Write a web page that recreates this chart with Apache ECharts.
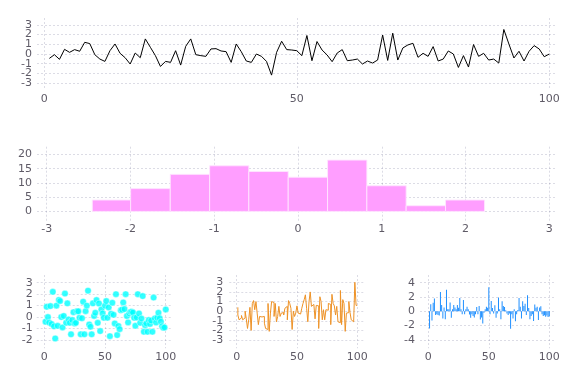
<!DOCTYPE html>
<html>
<head>
<meta charset="utf-8">
<script src="https://cdn.jsdelivr.net/npm/echarts@6/dist/echarts.min.js"></script>
<style>html,body{margin:0;padding:0;background:#fff}#c{width:576px;height:384px}</style>
</head>
<body>
<div id="c"></div>
<script>
// ---- data ----
const lineValues = [-0.45,-0.07,-0.55,0.48,0.17,0.45,0.28,1.2,1.07,-0.07,
  -0.52,-0.76,0.34,1.03,0.07,-0.38,-1.03,0.1,-0.38,1.55,
  0.69,-0.17,-1.28,-0.76,-0.86,0.34,-1.14,0.79,1.55,-0.07,
  -0.17,-0.24,0.52,0.55,0.31,0.24,-0.86,1.03,0.24,-0.72,
  -0.86,0.0,-0.24,-0.76,-2.17,0.17,1.31,0.45,0.41,0.34,
  -0.17,1.9,-0.69,1.28,0.41,-0.1,-0.79,0.1,0.45,-0.69,
  -0.62,-0.52,-1.03,-0.72,-0.93,-0.62,1.95,-0.66,2.14,-0.62,
  0.62,0.93,1.1,-0.34,0.07,-0.24,0.76,-0.72,-0.52,0.31,
  0.0,-1.38,-0.17,-1.34,0.97,-0.24,0.07,-0.62,-0.52,-0.93,
  2.52,1.03,-0.41,0.28,-0.72,0.28,0.86,0.52,-0.28,0.0];

const histEdges = [-2.456,-1.998,-1.525,-1.055,-0.587,-0.117,0.353,0.822,1.291,1.761,2.227];
const histCounts = [4,8,13,16,14,12,18,9,2,4];

const scatterValues = [-0.4,0.9,0.0,-0.47,0.96,-0.6,2.2,-0.8,-1.86,1.0,
  -0.76,1.5,1.4,0.0,-0.9,0.1,2.05,-0.5,1.2,-0.2,
  -0.5,-1.5,-0.26,0.43,-0.55,-0.5,0.5,0.5,-0.06,-1.5,
  -0.1,1.34,-1.5,0.52,1.0,2.3,-0.64,-0.84,-1.5,1.2,
  0.1,0.38,1.48,-0.5,1.19,-1.22,0.67,0.32,-0.06,1.0,
  1.4,-0.06,0.84,-1.66,0.3,1.25,0.2,-0.55,2.0,-1.57,
  -0.78,-1.05,0.6,0.65,1.28,0.7,2.0,0.09,-0.46,0.32,
  0.45,0.46,0.4,-0.06,-0.76,-0.03,2.0,0.32,-0.5,-0.12,
  1.83,-1.28,-0.7,-0.55,-1.28,-0.26,-0.6,-0.3,-1.28,1.7,
  -0.12,-0.47,-0.06,0.38,-0.1,-0.4,-0.8,-0.93,-0.9,0.67];

const stepValues = [0.4,-0.4,-0.9,-0.7,-0.45,-0.9,-0.7,0.0,-0.8,-1.8,
  -0.9,0.4,-2.0,0.8,1.1,0.15,1.0,-0.2,-1.4,-0.55,
  -0.6,-0.6,-0.55,-1.25,-1.8,-1.9,0.8,-2.1,-0.2,1.0,
  0.9,-0.55,0.8,-1.1,-0.55,0.5,-0.55,-0.2,-0.15,-0.4,
  0.3,0.5,-0.9,1.1,0.8,0.3,-1.9,0.0,-0.55,-0.2,
  0.55,-0.2,-0.3,-0.15,0.3,0.8,1.2,1.7,0.3,-1.1,
  1.0,2.0,0.5,0.7,0.65,-0.8,0.6,0.55,-1.8,1.5,
  1.0,-0.9,0.15,-0.9,0.15,0.1,0.8,0.7,-1.4,1.75,
  0.8,0.55,-0.4,0.5,-1.1,-1.2,2.15,-1.4,1.2,0.8,
  -2.1,-0.2,-0.15,1.0,-0.15,-0.9,-1.1,-1.0,3.0,0.6];

const barValues = [-2.4,1.0,-1.3,1.2,1.8,-0.5,-0.4,-0.5,-0.6,2.7,
  0.9,-1.0,0.55,-1.1,3.0,0.3,0.3,1.25,-0.9,0.28,
  0.9,0.55,0.3,0.9,0.5,1.85,0.3,-0.4,1.6,-0.4,
  0.3,0.65,0.3,-0.45,-0.9,-0.4,-0.65,-0.85,-0.4,0.6,
  -0.4,0.75,-1.15,-0.85,-1.7,-0.2,0.3,0.65,0.5,3.35,
  -0.4,1.45,0.45,-0.3,0.85,-0.9,-0.3,1.95,0.3,-1.1,
  1.4,0.75,0.6,0.15,-0.3,-0.5,-0.3,-2.45,-0.4,-1.0,
  0.3,-1.4,-0.4,0.2,1.85,0.65,-1.0,1.4,0.75,1.05,
  -0.5,2.25,0.45,-1.1,-0.65,-0.4,-1.35,0.95,0.5,0.65,
  -1.2,0.55,0.7,-0.4,-0.65,-0.55,-0.75,-0.6,-0.8,-0.7];

const xTicksIndex = [0,50,100];
const xTicksHist = [-3,-2,-1,0,1,2,3];
const yTicksLineOdd = [-3,-1,1,3];
const yTicksLineEven = [-2,0,2];
const yTicksHist = [0,5,10,15,20];
const yTicksScatter = [-2,-1,0,1,2,3];
const yTicksStepOdd = [-3,-1,1,3];
const yTicksStepEven = [-2,0,2];
const yTicksBar = [-4,-2,0,2,4];

// ---- chart ----
const labelColor = '#5e5a66';
const gridColor = 'rgba(60,60,110,0.18)';
const font = 'DejaVu Sans';

function xAx(gi, min, max, ticks, margin) {
  return {type:'value', gridIndex:gi, min:min, max:max, position:'bottom',
    axisLine:{show:false},
    axisTick:{show:false, customValues:ticks},
    axisLabel:{customValues:ticks, color:labelColor, fontFamily:font, fontSize:11, margin:margin,
      showMinLabel:true, showMaxLabel:true},
    splitLine:{show:true, lineStyle:{color:gridColor, type:[2,2], width:1}}};
}
function yAx(gi, min, max, ticks, margin) {
  return {type:'value', gridIndex:gi, min:min, max:max, position:'left', offset:0,
    axisLine:{show:false},
    axisTick:{show:false, customValues:ticks},
    axisLabel:{customValues:ticks, color:labelColor, fontFamily:font, fontSize:11, margin:margin,
      showMinLabel:true, showMaxLabel:true},
    splitLine:{show:true, lineStyle:{color:gridColor, type:[2,2], width:1}}};
}

const pairs = arr => arr.map((v, i) => [i + 1, v]);
const histData = histCounts.map((c, i) => [histEdges[i], histEdges[i + 1], c]);

const option = {
  animation:false,
  backgroundColor:'#fff',
  grid:[
    {left:37, top:18, width:519, height:72},
    {left:37, top:146.7, width:519, height:75},
    {left:36.7, top:275, width:135, height:73.3},
    {left:229.3, top:275, width:134, height:73.3},
    {left:420, top:275, width:135.7, height:73.3}
  ],
  xAxis:[
    xAx(0, -1.45, 101.33, xTicksIndex, 4),
    xAx(1, -3.116, 3.08, xTicksHist, 2),
    xAx(2, -6.26, 104.9, xTicksIndex, 3),
    xAx(3, -6.1, 105, xTicksIndex, 3),
    xAx(4, -6.9, 105.3, xTicksIndex, 3)
  ],
  yAxis:[
    yAx(0, -3.7, 3.7, yTicksLineOdd, 5),
    yAx(1, -3.6, 22.7, yTicksHist, 5),
    yAx(2, -2.72, 3.67, yTicksScatter, 4),
    yAx(3, -3.86, 3.76, yTicksStepOdd, 6),
    yAx(4, -5.17, 5.08, yTicksBar, 5),
    yAx(0, -3.7, 3.7, yTicksLineEven, 5),
    yAx(3, -3.86, 3.76, yTicksStepEven, 6)
  ],
  series:[
    {type:'line', xAxisIndex:0, yAxisIndex:0, data:pairs(lineValues), showSymbol:false,
      lineStyle:{color:'#000', width:1}},
    {type:'custom', xAxisIndex:1, yAxisIndex:1, data:histData,
      renderItem:function(params, api){
        const p0 = api.coord([api.value(0), api.value(2)]);
        const p1 = api.coord([api.value(1), 0]);
        return {type:'rect', shape:{x:p0[0], y:p0[1], width:p1[0]-p0[0], height:p1[1]-p0[1]},
          style:{fill:'#ff9eff', stroke:'rgba(255,230,255,0.9)', lineWidth:1}};
      }},
    {type:'scatter', xAxisIndex:2, yAxisIndex:2, data:pairs(scatterValues), symbolSize:6.5,
      itemStyle:{color:'#00ffff', borderColor:'rgba(255,255,255,0.8)', borderWidth:0.6}},
    {type:'line', xAxisIndex:3, yAxisIndex:3, data:pairs(stepValues), step:'start', showSymbol:false,
      lineStyle:{color:'#ee9226', width:1}},
    {type:'bar', xAxisIndex:4, yAxisIndex:4, data:pairs(barValues), barWidth:1,
      itemStyle:{color:'#1e8fff'}}
  ]
};
const chart = echarts.init(document.getElementById('c'), null, {renderer:'canvas'});
chart.setOption(option);
</script>
</body>
</html>
